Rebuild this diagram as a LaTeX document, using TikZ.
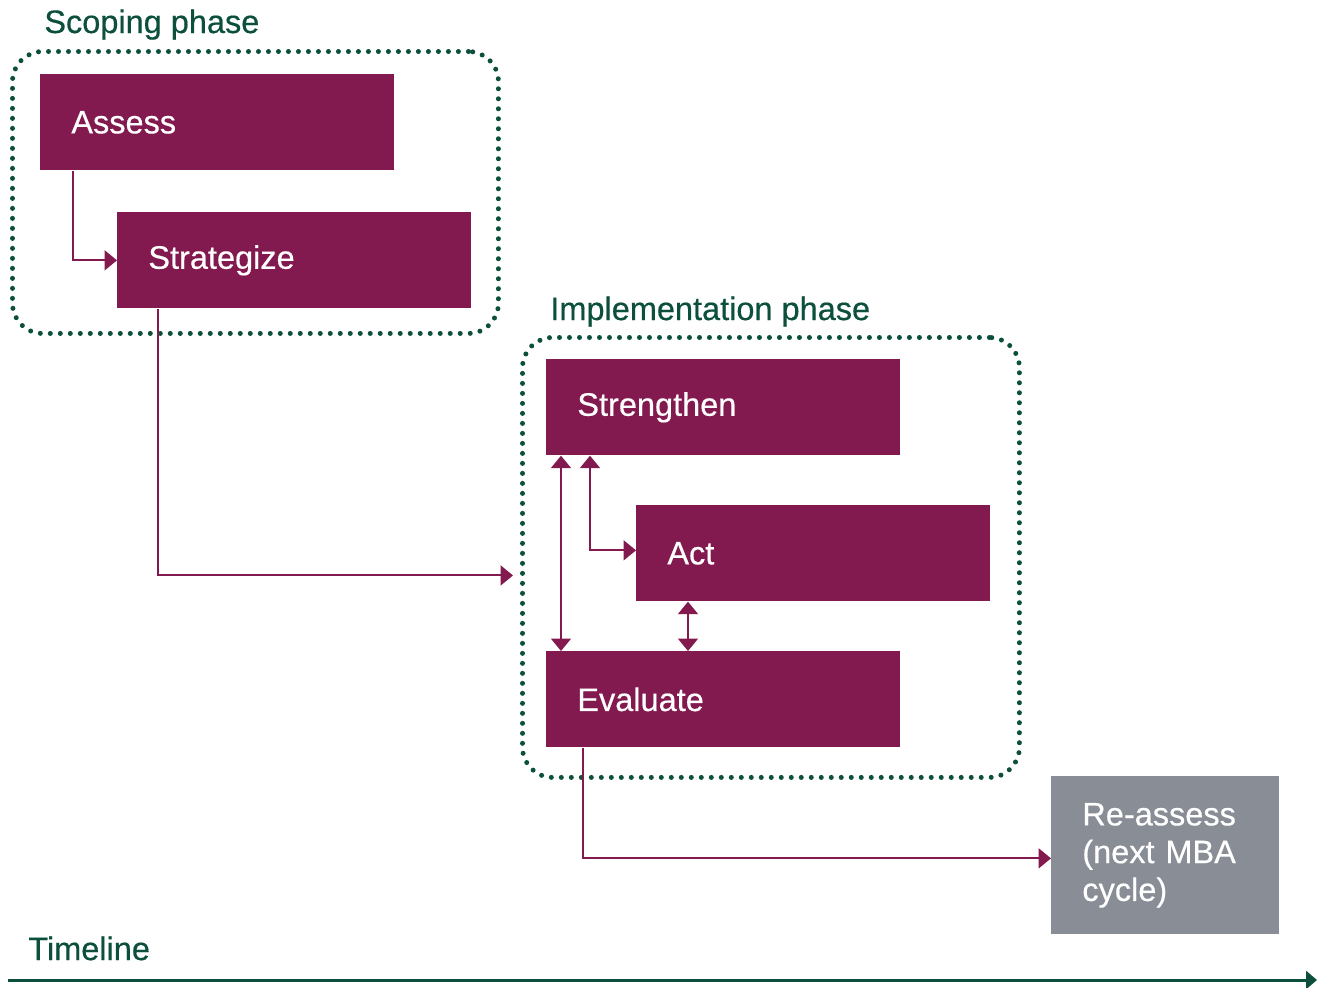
\documentclass[tikz,border=0pt]{standalone}
\usepackage{fontspec}
\newfontfamily\diagfont{Liberation Sans}[FakeBold=0.45]
\usepackage{tikz}
\usetikzlibrary{arrows.meta}
\definecolor{plum}{HTML}{821A50}
\definecolor{pine}{HTML}{0B4F3C}
\definecolor{slate}{HTML}{898D96}
\tikzstyle{every node}=[font=\diagfont\fontsize{18.5}{21.5}\selectfont]
\tikzstyle{stagebox}=[fill=plum, text=white, anchor=north west, minimum width=7.08cm, minimum height=1.92cm, inner xsep=0.62cm, inner ysep=0pt, text width=5.84cm, align=left]
\tikzstyle{phasebox}=[draw=pine, anchor=north west, rounded corners=0.6cm, line width=0.1cm, line cap=round, dash pattern=on 0pt off 0.2cm]
\tikzstyle{phaselabel}=[text=pine, anchor=base west, inner sep=0pt]
\tikzstyle{link}=[draw=plum, line width=0.04cm, -{Triangle[width=0.4cm, length=0.25cm]}]
\tikzstyle{twolink}=[link, {Triangle[width=0.4cm, length=0.25cm]}-{Triangle[width=0.4cm, length=0.25cm]}]

\begin{document}
\begin{tikzpicture}[x=0.02cm, y=-0.02cm]
    \useasboundingbox (0, 0) rectangle (1317, 987);

    \node [phasebox, minimum width=9.72cm, minimum height=5.64cm] (scoping) at (10, 49) {};
    \node [phasebox, minimum width=9.94cm, minimum height=8.8cm] (impl) at (520, 335) {};
    \node [phaselabel] (scopinglabel) at (44, 33) {Scoping phase};
    \node [phaselabel] (impllabel) at (550, 320) {Implementation phase};

    \node [stagebox] (assess) at (40, 74) {Assess};
    \node [stagebox] (strategize) at (117, 212) {Strategize};
    \node [stagebox] (strengthen) at (546, 359) {Strengthen};
    \node [stagebox] (act) at (636, 505) {Act};
    \node [stagebox] (evaluate) at (546, 651) {Evaluate};
    \node [stagebox, fill=slate, minimum width=4.56cm, minimum height=3.16cm, text width=3.32cm] (reassess) at (1051, 776) {Re-assess\\(next MBA\\cycle)};

    \node [phaselabel] (timeline) at (28, 960) {Timeline};
    \coordinate (t0) at (8, 980);
    \coordinate (t1) at (1317, 980);

    \draw [link] ([xshift=0.66cm]assess.south west) |- (strategize.west);
    \draw [link, shorten >=0.14cm] ([xshift=0.82cm]strategize.south west) |- ([yshift=-0.36cm]impl.west);
    \draw [twolink] ([xshift=0.3cm]strengthen.south west) -- ([xshift=0.3cm]evaluate.north west);
    \draw [twolink] ([xshift=0.88cm]strengthen.south west) |- ([yshift=0.06cm]act.west);
    \draw [twolink] ([xshift=1.04cm]act.south west) -- ([xshift=1.04cm]act.south west |- evaluate.north);
    \draw [link] ([xshift=0.74cm]evaluate.south west) |- ([yshift=-0.06cm]reassess.west);

    \draw [pine, line width=0.06cm, -{Triangle[width=0.36cm, length=0.22cm]}] (t0) -- (t1);
\end{tikzpicture}
\end{document}
